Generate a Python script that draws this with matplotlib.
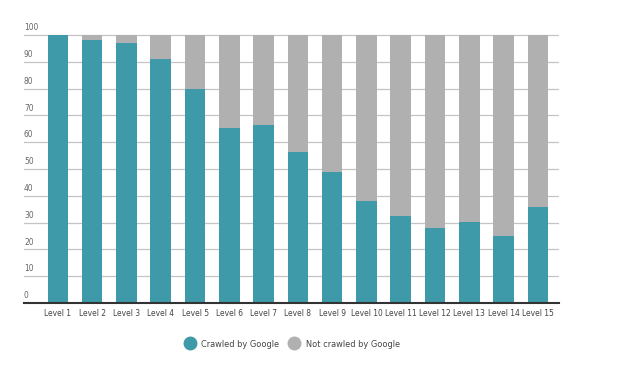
import matplotlib.pyplot as plt
from matplotlib.lines import Line2D
import numpy as np

# data
levels = [f"Level {i}" for i in range(1, 16)]
crawled = [100, 98, 97, 91, 80, 65.3, 66.3, 56.3, 49, 38, 32.3, 28.1, 30.2, 25, 35.8]
not_crawled = [100 - c for c in crawled]
yticks = [0, 10, 20, 30, 40, 50, 60, 70, 80, 90, 100]

TEAL = "#3e9aa8"
GREY = "#b0b0b0"

plt.rcParams["font.family"] = ["DejaVu Sans"]
plt.rcParams["font.stretch"] = "condensed"

fig = plt.figure(figsize=(6.23, 3.72), dpi=100)
ax = fig.add_axes([0.0385, 0.1855, 0.8585, 0.7275])

x = np.arange(len(levels))
ax.bar(x, crawled, width=0.6, color=TEAL, zorder=3)
ax.bar(x, not_crawled, width=0.6, bottom=crawled, color=GREY, zorder=3)

ax.set_xlim(-0.99, 14.61)
ax.set_ylim(0, 101)

for y in yticks[1:]:
    ax.axhline(y, color="#c4c4c4", lw=0.9, zorder=1)
for y in yticks:
    ax.annotate(str(y), xy=(0, y), xycoords=("axes fraction", "data"),
                xytext=(0, 2.0), textcoords="offset points",
                ha="left", va="bottom", fontsize=6, color="#666666")

ax.set_yticks([])
ax.set_xticks(x)
ax.set_xticklabels(levels, fontsize=6, color="#444444")
ax.tick_params(axis="x", length=0, pad=4)
for side in ["top", "right", "left"]:
    ax.spines[side].set_visible(False)
ax.spines["bottom"].set_color("#333333")
ax.spines["bottom"].set_linewidth(1.5)
ax.spines["bottom"].set_zorder(4)

handles = [
    Line2D([], [], marker="o", ls="", markersize=9, color=TEAL, label="Crawled by Google"),
    Line2D([], [], marker="o", ls="", markersize=9, color=GREY, label="Not crawled by Google"),
]
fig.legend(handles=handles, loc="center", bbox_to_anchor=(0.466, 0.075), ncol=2,
           frameon=False, fontsize=6.6, handletextpad=0.3, columnspacing=0.6,
           labelcolor="#444444")

fig.savefig("out.png", dpi=100)
